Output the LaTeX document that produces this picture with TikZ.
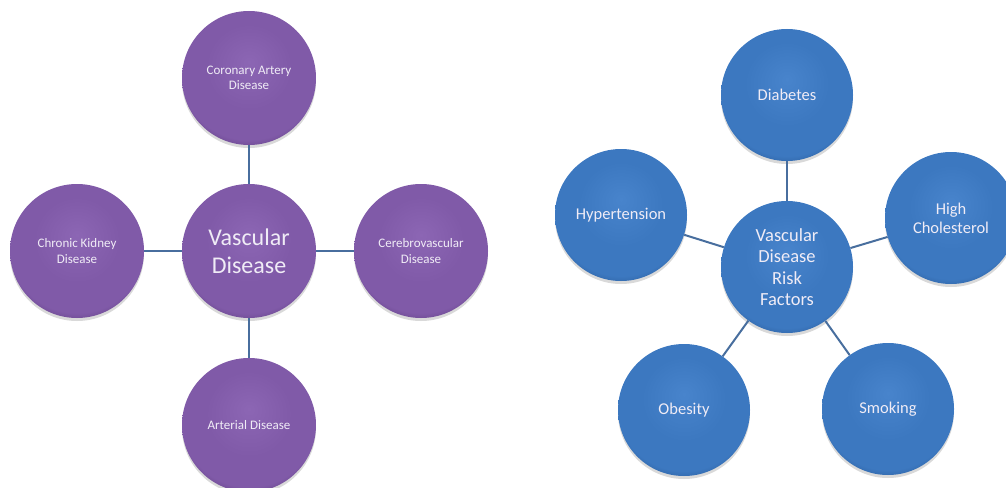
\documentclass[tikz,border=0pt]{standalone}
\usepackage{fontspec}
\setmainfont{Carlito}
\usetikzlibrary{shadows}
\definecolor{pbase}{RGB}{128,90,168}
\definecolor{plight}{RGB}{140,102,180}
\definecolor{pdark}{RGB}{96,62,130}
\definecolor{bbase}{RGB}{60,120,192}
\definecolor{blight}{RGB}{72,132,204}
\definecolor{bdark}{RGB}{40,90,152}
\definecolor{linecol}{RGB}{72,110,158}
\definecolor{txtcol}{RGB}{240,236,246}
\pgfdeclareradialshading{purpleball}{\pgfpoint{0bp}{6bp}}{color(0bp)=(plight); color(16bp)=(pbase); color(26bp)=(pbase); color(31bp)=(pdark); color(50bp)=(pdark)}
\pgfdeclareradialshading{blueball}{\pgfpoint{0bp}{6bp}}{color(0bp)=(blight); color(16bp)=(bbase); color(26bp)=(bbase); color(31bp)=(bdark); color(50bp)=(bdark)}
\tikzset{
  pball/.style={circle, inner sep=0pt, minimum size=134pt, shading=purpleball,
    drop shadow={shadow xshift=0pt, shadow yshift=-3pt, opacity=0.25, fill=black!60},
    text=txtcol, align=center, font=\fontsize{13}{15.5}\selectfont},
  bball/.style={circle, inner sep=0pt, minimum size=132pt, shading=blueball,
    drop shadow={shadow xshift=0pt, shadow yshift=-3pt, opacity=0.25, fill=black!60},
    text=txtcol, align=center, font=\fontsize{16.5}{19}\selectfont},
  conn/.style={draw=linecol, line width=2pt}
}
\begin{document}
\begin{tikzpicture}[x=1pt, y=-1pt]
\useasboundingbox (0,0) rectangle (1006,487);
% left diagram
\node[pball, font=\fontsize{24}{28}\selectfont] (vd) at (249,251) {Vascular\\Disease};
\node[pball] (cad) at (249,78) {Coronary Artery\\Disease};
\node[pball] (ckd) at (77,251) {Chronic Kidney\\Disease};
\node[pball] (cvd) at (421,251) {Cerebrovascular\\Disease};
\node[pball] (ad) at (249,425) {Arterial Disease};
\draw[conn] (vd) -- (cad);
\draw[conn] (vd) -- (ckd);
\draw[conn] (vd) -- (cvd);
\draw[conn] (vd) -- (ad);
% right diagram
\node[bball, font=\fontsize{18.5}{21.5}\selectfont] (rf) at (787,267) {Vascular\\Disease\\Risk\\Factors};
\node[bball] (dia) at (787,95) {Diabetes};
\node[bball] (hyp) at (621,215) {Hypertension};
\node[bball] (hc) at (951,218) {High\\Cholesterol};
\node[bball] (ob) at (684,410) {Obesity};
\node[bball] (sm) at (888,409) {Smoking};
\draw[conn] (rf) -- (dia);
\draw[conn] (rf) -- (hyp);
\draw[conn] (rf) -- (hc);
\draw[conn] (rf) -- (ob);
\draw[conn] (rf) -- (sm);
\end{tikzpicture}
\end{document}
